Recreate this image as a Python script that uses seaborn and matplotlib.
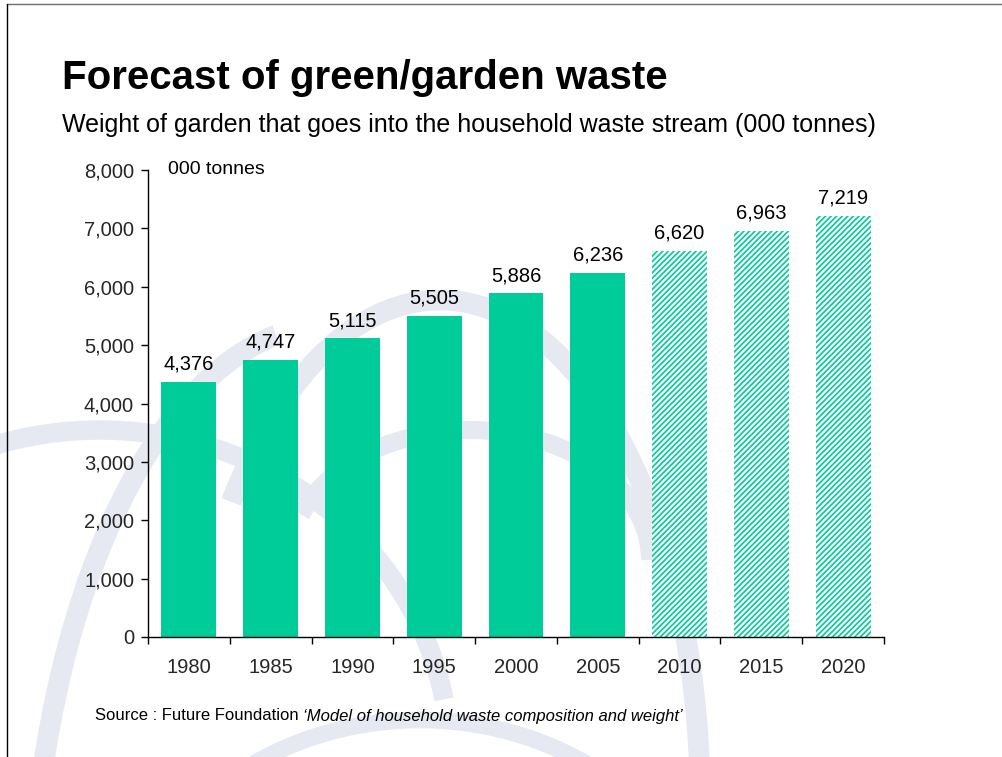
import matplotlib
matplotlib.use("Agg")
import matplotlib.pyplot as plt
from matplotlib.patches import Arc
from matplotlib.lines import Line2D
from matplotlib.ticker import FuncFormatter, FixedLocator
import seaborn as sns
import pandas as pd

# Garden waste entering the household waste stream (000 tonnes)
years = ["1980", "1985", "1990", "1995", "2000", "2005", "2010", "2015", "2020"]
tonnes = [4376, 4747, 5115, 5505, 5886, 6236, 6620, 6963, 7219]
forecast = [False, False, False, False, False, False, True, True, True]

GREEN = "#00CC99"
WATERMARK = "#E6E9F1"

sns.set_theme(style="white")
plt.rcParams["font.family"] = ["Liberation Sans", "DejaVu Sans"]
plt.rcParams["hatch.linewidth"] = 1.6

fig = plt.figure(figsize=(10.03, 7.57), dpi=100)
fig.patch.set_facecolor("white")

# Faint arc decoration of the slide template (pixel coordinates, y down)
bg = fig.add_axes([0, 0, 1, 1], zorder=0)
bg.set_xlim(0, 1003)
bg.set_ylim(757, 0)
bg.axis("off")
arcs = [
    # centre, width, height, theta1, theta2, linewidth (pt)
    ((440, 800), 520, 1000, -10, 125, 15),
    ((330, 950), 600, 1250, 95, 190, 15),
    ((100, 760), 700, 660, 10, 150, 14),
    ((470, 560), 360, 260, 0, 165, 13),
    ((420, 1000), 620, 560, 20, 160, 12),
]
for (cx, cy), w, h, t1, t2, lw in arcs:
    bg.add_patch(Arc((cx, cy), w, h, theta1=-t2, theta2=-t1,
                     color=WATERMARK, lw=lw, zorder=0))

# Slide frame
fig.add_artist(Line2D([7 / 1003, 1], [1 - 4 / 757, 1 - 4 / 757],
                      color="#6E6E6E", lw=1.0))
fig.add_artist(Line2D([7 / 1003, 7 / 1003], [0, 1 - 4 / 757],
                      color="black", lw=1.0))

fig.text(62 / 1003, 1 - 78 / 757, "Forecast of green/garden waste",
         fontsize=29, fontweight="bold", va="center", ha="left", color="black")
fig.text(62 / 1003, 1 - 125 / 757,
         "Weight of garden that goes into the household waste stream (000 tonnes)",
         fontsize=18, va="center", ha="left", color="black")

ax = fig.add_axes([148 / 1003, 1 - 637 / 757, (884 - 148) / 1003,
                   (637 - 170) / 757], zorder=1)
ax.patch.set_alpha(0)

df = pd.DataFrame({"year": years, "tonnes": tonnes})
sns.barplot(data=df, x="year", y="tonnes", color=GREEN, saturation=1,
            width=0.67, ax=ax)

for patch, fc in zip(ax.patches, forecast):
    patch.set_facecolor(GREEN)
    patch.set_linewidth(0)
    if fc:
        patch.set_edgecolor("white")
        patch.set_hatch("//////")

for cont in ax.containers:
    ax.bar_label(cont, labels=[f"{v:,}" for v in tonnes], padding=6,
                 fontsize=14.5, color="black")

ax.set_ylim(0, 8000)
ax.set_xlim(-0.5, len(years) - 0.5)
ax.set_yticks(range(0, 8001, 1000))
ax.yaxis.set_major_formatter(FuncFormatter(lambda v, p: f"{int(v):,}"))
ax.xaxis.set_minor_locator(FixedLocator([i - 0.5 for i in range(len(years) + 1)]))
ax.tick_params(axis="x", which="major", length=0, pad=15, labelsize=14.5)
ax.tick_params(axis="x", which="minor", length=5, width=1, color="black",
               direction="out", bottom=True)
ax.tick_params(axis="y", length=5, width=1, color="black", direction="out",
               left=True, pad=5, labelsize=14.5)
ax.set_xlabel("")
ax.set_ylabel("")
sns.despine(ax=ax)
for s in ("left", "bottom"):
    ax.spines[s].set_color("black")
    ax.spines[s].set_linewidth(1.0)

ax.text(20 / 736, 1.0, "000 tonnes", transform=ax.transAxes, fontsize=14,
        va="center", ha="left", color="black")

src = fig.text(95 / 1003, 1 - 716 / 757, "Source : Future Foundation ",
               fontsize=12, va="center", ha="left", color="black")
fig.canvas.draw()
bb = src.get_window_extent()
fig.text(bb.x1 / 1003, 1 - 716 / 757,
         "\u2018Model of household waste composition and weight\u2019",
         fontsize=12, style="italic", va="center", ha="left", color="black")

fig.savefig("out.png", dpi=100, facecolor="white")
